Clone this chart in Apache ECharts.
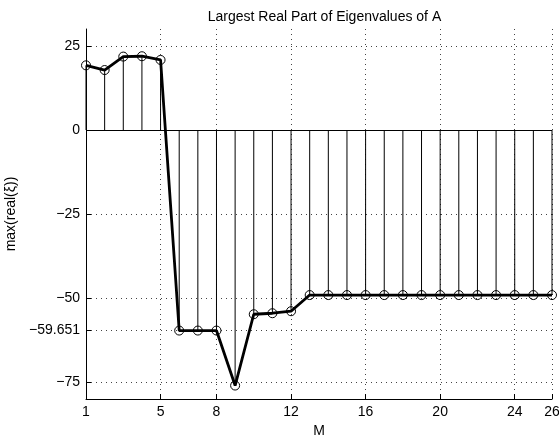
<!DOCTYPE html>
<html>
<head>
<meta charset="utf-8">
<script src="https://cdn.jsdelivr.net/npm/echarts@6/dist/echarts.min.js"></script>
<style>html,body{margin:0;padding:0;background:#fff}#c{width:559px;height:436px}</style>
</head>
<body>
<div id="c"></div>
<script>
const M = [1,2,3,4,5,6,7,8,9,10,11,12,13,14,15,16,17,18,19,20,21,22,23,24,25,26];
const maxReal = [19.2,17.8,21.8,21.9,20.8,-59.651,-59.651,-59.651,-76.0,-54.8,-54.5,-53.9,-49.1,-49.1,-49.1,-49.1,-49.1,-49.1,-49.1,-49.1,-49.1,-49.1,-49.1,-49.1,-49.1,-49.1];
const xTicks = [1,5,8,12,16,20,24,26];
const yTicks = [-75,-59.651,-50,-25,0,25];
const titleText = 'Largest Real Part of Eigenvalues of A';
const xName = 'M';
const yName = 'max(real(\u03BE))';

const pts = M.map((m,i)=>[m,maxReal[i]]);
const font = 'Liberation Sans';
const gridDot = {type:[1,4], color:'#444', width:1};
const minus = v => String(v).replace('-', '\u2212');

const chart = echarts.init(document.getElementById('c'), null, {renderer:'canvas'});
chart.setOption({
  animation:false,
  backgroundColor:'#fff',
  title:{text:titleText, left:319.5, top:5, textAlign:'center',
    textStyle:{fontFamily:font, fontSize:14, fontWeight:'normal', color:'#000'}},
  grid:{left:86, right:7, top:29, bottom:37, outerBoundsMode:'none', containLabel:false},
  xAxis:{type:'value', min:1, max:26,
    name:xName, nameLocation:'middle', nameGap:20,
    nameTextStyle:{fontFamily:font, fontSize:14, color:'#000'},
    axisLine:{show:true, onZero:false, lineStyle:{color:'#000', width:1}},
    axisTick:{show:true, inside:true, length:5, customValues:xTicks, lineStyle:{color:'#000'}},
    axisLabel:{customValues:xTicks, fontFamily:font, fontSize:14, color:'#000', margin:6},
    splitLine:{show:true, lineStyle:gridDot}
  },
  yAxis:{type:'value', min:-80, max:30,
    name:yName, nameLocation:'middle', nameGap:62,
    nameTextStyle:{fontFamily:font, fontSize:14, color:'#000'},
    axisLine:{show:true, onZero:false, lineStyle:{color:'#000', width:1}},
    axisTick:{show:true, inside:true, length:5, customValues:yTicks, lineStyle:{color:'#000'}},
    axisLabel:{customValues:yTicks, fontFamily:font, fontSize:14, color:'#000', margin:6,
      formatter:v=>minus(v)},
    splitLine:{show:true, lineStyle:gridDot}
  },
  series:[
    {type:'bar', data:pts, barWidth:1, itemStyle:{color:'#000'}, z:2,
      markLine:{silent:true, symbol:'none', label:{show:false},
        lineStyle:{type:'solid', color:'#000', width:1},
        data:[{yAxis:0}]}},
    {type:'line', data:pts, z:3, symbol:'circle', symbolSize:9,
      lineStyle:{color:'#000', width:2.8},
      itemStyle:{color:'rgba(0,0,0,0)', borderColor:'#000', borderWidth:1}}
  ]
});
</script>
</body>
</html>
